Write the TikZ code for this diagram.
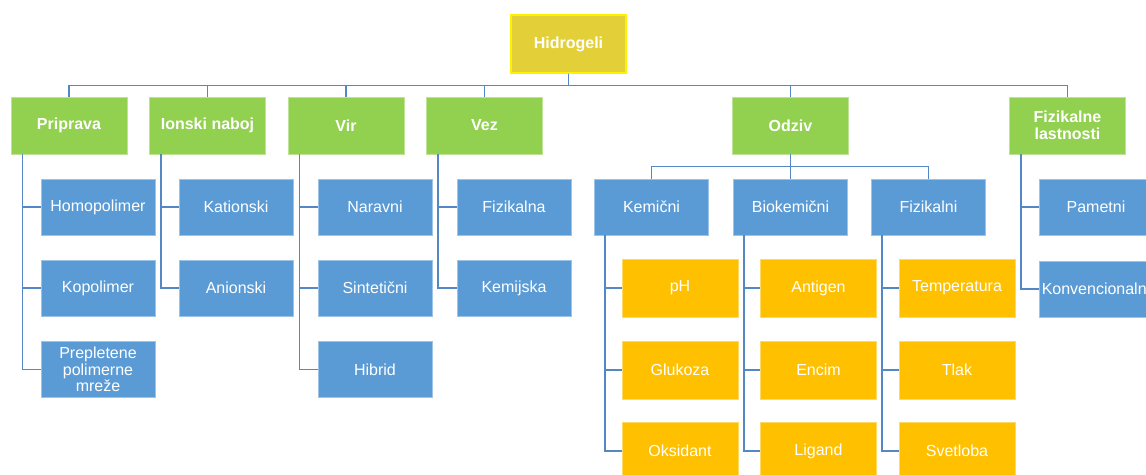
\documentclass[tikz,border=0pt]{standalone}
\usepackage{fontspec}
\setmainfont{Liberation Sans}
\usetikzlibrary{calc}
\definecolor{gr}{RGB}{146,208,80}
\definecolor{bl}{RGB}{91,155,213}
\definecolor{orr}{RGB}{255,192,0}
\definecolor{yl}{RGB}{227,208,56}
\definecolor{ln}{RGB}{84,136,196}
\begin{document}
\begin{tikzpicture}[x=1pt,y=-1pt,
  box/.style={rectangle,inner sep=0pt,align=center,text=white,font=\fontsize{16}{16.5}\selectfont,line width=0.8pt},
  rootbox/.style={box,fill=yl,draw=yellow,line width=1.2pt,minimum width=115pt,minimum height=58pt,font=\fontsize{16}{16.5}\selectfont\bfseries},
  catbox/.style={box,fill=gr,draw=gr!60!white,minimum width=116pt,minimum height=57pt,font=\fontsize{16}{16.5}\selectfont\bfseries},
  subbox/.style={box,fill=bl,draw=bl!60!white,minimum width=114pt,minimum height=56pt},
  leafbox/.style={box,fill=orr,draw=orr!60!white,minimum width=116pt,minimum height=58pt},
  conn/.style={draw=ln,line width=1.3pt}]
\useasboundingbox (0,0) rectangle (1146,474);
\fill[white] (0,0) rectangle (1146,474);

\node[rootbox] (hid) at (568.5,44) {Hidrogeli};

\node[catbox] (prip) at (69,125.5) {Priprava};
\node[catbox] (ion) at (207.5,125.5) {Ionski naboj};
\node[catbox] (vir) at (346,125.5) {Vir};
\node[catbox] (vez) at (484.5,125.5) {Vez};
\node[catbox] (odz) at (790.5,125.5) {Odziv};
\node[catbox] (fiz) at (1067.5,125.5) {Fizikalne\\lastnosti};

\node[subbox] (homo) at (98,207) {Homopolimer};
\node[subbox] (kopo) at (98,288) {Kopolimer};
\node[subbox] (prep) at (98,369.5) {Prepletene\\polimerne\\mreže};
\node[subbox] (kat) at (236,207) {Kationski};
\node[subbox] (ani) at (236,288) {Anionski};
\node[subbox] (nar) at (375,207) {Naravni};
\node[subbox] (sin) at (375,288) {Sintetični};
\node[subbox] (hib) at (375,369.5) {Hibrid};
\node[subbox] (fizk) at (514,207) {Fizikalna};
\node[subbox] (kemj) at (514,288) {Kemijska};
\node[subbox] (pam) at (1096,207) {Pametni};
\node[subbox] (konv) at (1096,289) {Konvencionalni};

\node[subbox] (kem) at (651.5,207) {Kemični};
\node[subbox] (bio) at (790.5,207) {Biokemični};
\node[subbox] (fzl) at (928.5,207) {Fizikalni};

\node[leafbox] (ph) at (680,288) {pH};
\node[leafbox] (glu) at (680,370) {Glukoza};
\node[leafbox] (oks) at (680,451) {Oksidant};
\node[leafbox] (ant) at (818.5,288) {Antigen};
\node[leafbox] (enc) at (818.5,370) {Encim};
\node[leafbox] (lig) at (818.5,451) {Ligand};
\node[leafbox] (tem) at (957,288) {Temperatura};
\node[leafbox] (tla) at (957,370) {Tlak};
\node[leafbox] (sve) at (957,451) {Svetloba};

% top bus
\foreach \c in {prip,ion,vir,vez,odz,fiz}
  \draw[conn] (hid.south) -- ++(0,12) -| (\c.north);
% odziv bus
\foreach \c in {kem,bio,fzl}
  \draw[conn] (odz.south) -- ++(0,12) -| (\c.north);
% side connectors
\foreach \p/\c in {prip/homo,prip/kopo,prip/prep,ion/kat,ion/ani,vir/nar,vir/sin,vir/hib,vez/fizk,vez/kemj,fiz/pam,fiz/konv}
  \draw[conn] ($(\p.south west)+(12,0)$) |- (\c.west);
\foreach \p/\c in {kem/ph,kem/glu,kem/oks,bio/ant,bio/enc,bio/lig,fzl/tem,fzl/tla,fzl/sve}
  \draw[conn] ($(\p.south west)+(11,0)$) |- (\c.west);
\end{tikzpicture}
\end{document}
